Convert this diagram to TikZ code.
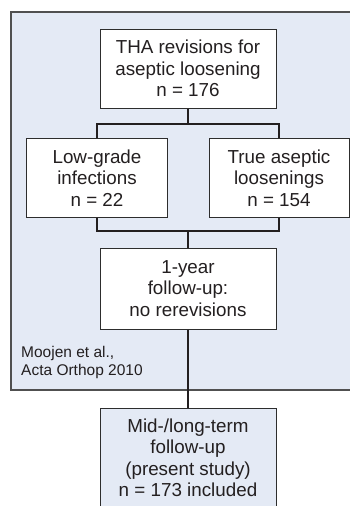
\documentclass[tikz,border=0pt]{standalone}
\usepackage{fontspec}
\setmainfont{Liberation Sans}
\definecolor{panelfill}{RGB}{228,234,245}
\definecolor{panelline}{RGB}{80,80,80}
\definecolor{boxline}{RGB}{45,45,45}
\definecolor{inkc}{RGB}{35,31,32}
\begin{document}
\begin{tikzpicture}[x=1pt,y=-1pt,
  flowbox/.style={draw=boxline,line width=1pt,fill=white,align=center,inner sep=0pt,
    text=inkc,font=\fontsize{18.8}{21.5}\selectfont},
  conn/.style={draw=inkc,line width=2pt},
  notetext/.style={align=left,inner sep=0pt,text=inkc,font=\fontsize{15.5}{18.3}\selectfont}]
\useasboundingbox (0,0) rectangle (350,506);
\clip (0,0) rectangle (350,506);
% background panel
\path[fill=panelfill,draw=panelline,line width=1.2pt] (11,12) rectangle (362,390);
% boxes
\node[flowbox,minimum width=176pt,minimum height=79pt] (top) at (188,68.5)
  {THA revisions for\\aseptic loosening\\n = 176};
\node[flowbox,minimum width=141.5pt,minimum height=79.5pt] (low) at (97,178)
  {Low-grade\\infections\\n = 22};
\node[flowbox,minimum width=140pt,minimum height=79.5pt] (true) at (279,178)
  {True aseptic\\loosenings\\n = 154};
\node[flowbox,minimum width=176pt,minimum height=81pt] (mid) at (188,288.5)
  {1-year\\follow-up:\\no rerevisions};
\node[flowbox,fill=panelfill,minimum width=176pt,minimum height=100pt] (bot) at (188,458)
  {Mid-/long-term\\follow-up\\(present study)\\n = 173 included};
\node[notetext,anchor=north west] (note) at (21,345.6) {Moojen et al.,\\Acta Orthop 2010};
% connectors
\coordinate (s1) at (188,124);
\coordinate (s1l) at (97,124);
\coordinate (s1r) at (279,124);
\coordinate (s2) at (188,231);
\coordinate (s2l) at (97,231);
\coordinate (s2r) at (279,231);
\draw[conn] (top.south) -- (s1);
\draw[conn,line cap=rect] (s1l) -- (s1r);
\draw[conn] (s1l) -- (low.north);
\draw[conn] (s1r) -- (true.north);
\draw[conn] (low.south) -- (s2l);
\draw[conn] (true.south) -- (s2r);
\draw[conn,line cap=rect] (s2l) -- (s2r);
\draw[conn] (s2) -- (mid.north);
\draw[conn] (mid.south) -- (bot.north);
\end{tikzpicture}
\end{document}
